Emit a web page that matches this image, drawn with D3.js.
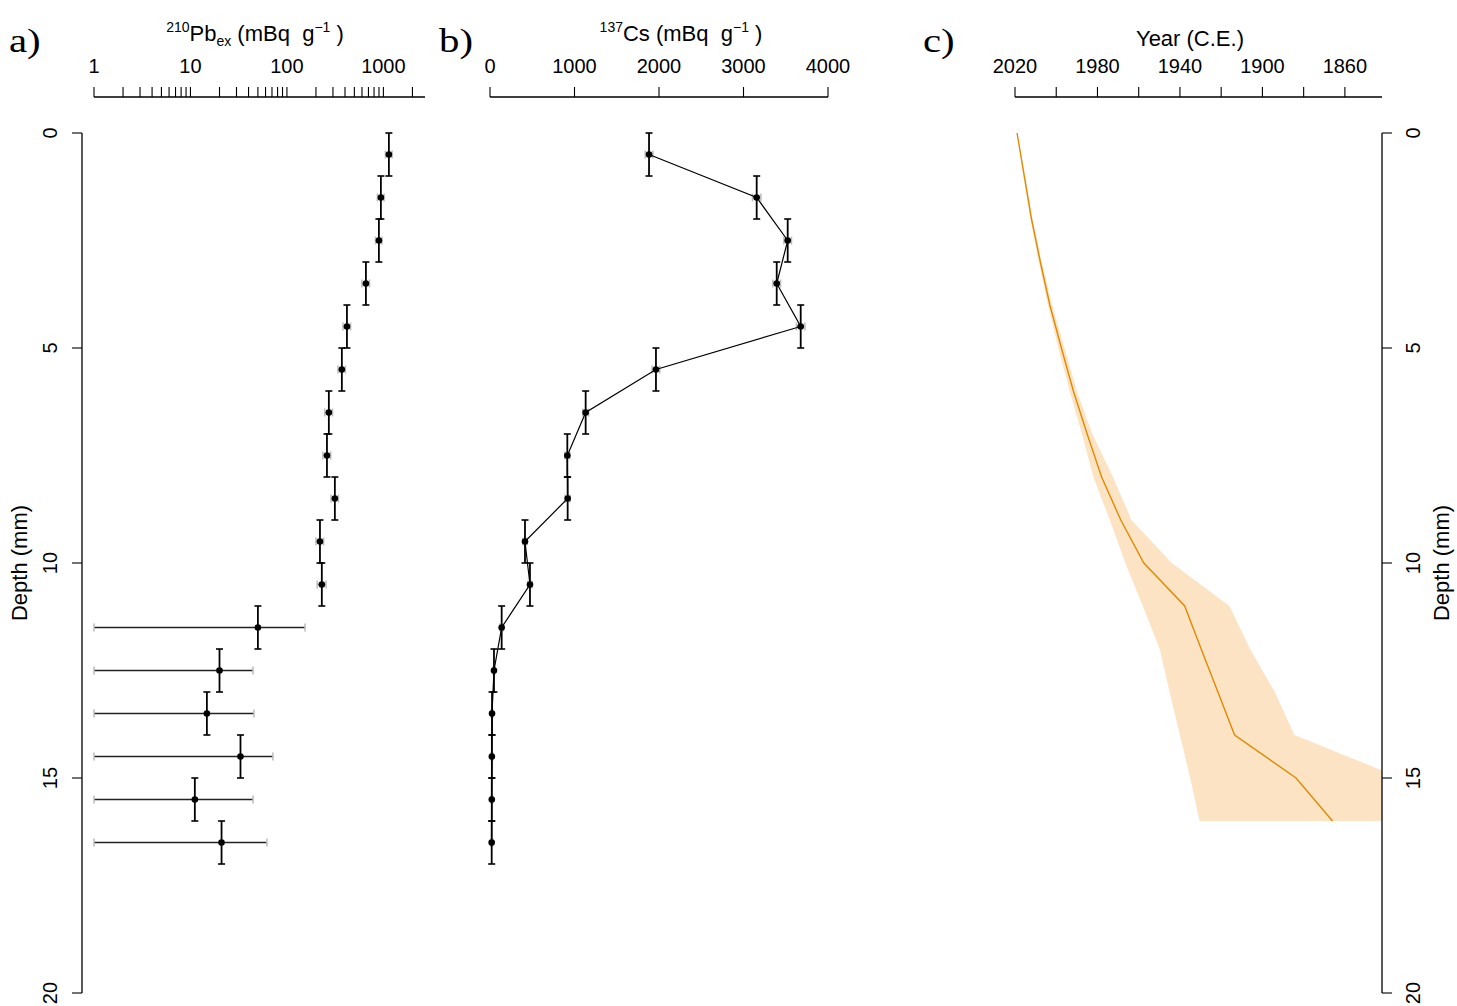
<!DOCTYPE html>
<html>
<head>
<meta charset="utf-8">
<script src="https://cdn.jsdelivr.net/npm/d3@7"></script>
<style>
  body { margin: 0; background: #fff; }
  text { font-family: "Liberation Sans", Arial, sans-serif; fill: #000; white-space: pre; }
</style>
</head>
<body>
<svg id="chart" width="1457" height="1006"></svg>
<script>
// slice midpoints and their top / bottom (mm)
var depth      = [0.5, 1.5, 2.5, 3.5, 4.5, 5.5, 6.5, 7.5, 8.5, 9.5, 10.5, 11.5, 12.5, 13.5, 14.5, 15.5, 16.5];
var sliceTop   = [0, 1, 2, 3, 4, 5, 6, 7, 8, 9, 10, 11, 12, 13, 14, 15, 16];
var sliceBot   = [1, 2, 3, 4, 5, 6, 7, 8, 9, 10, 11, 12, 13, 14, 15, 16, 17];

// 210Pb excess (mBq/g) and its error
var pbEx  = [1140, 942, 898, 659, 419, 371, 272, 260, 314, 220, 230, 50, 20, 14.8, 33, 11.1, 21];
var pbErr = [90, 75, 70, 60, 38, 33, 25, 24, 28, 20, 24, 104, 24.5, 30.7, 38.6, 33.4, 41];

// 137Cs (mBq/g) and its error
var csVal = [1882, 3156, 3523, 3393, 3677, 1964, 1132, 915, 919, 414, 473, 138, 47, 24, 22, 21, 20];
var csErr = [45, 50, 45, 45, 50, 45, 35, 30, 30, 25, 25, 20, 15, 12, 12, 12, 12];

// CRS age model
var ageDepth = [0, 1, 2, 3, 4, 5, 6, 7, 8, 9, 10, 11, 12, 13, 14, 15, 16];
var ageYear  = [2019, 2015.5, 2012, 2007.7, 2003.1, 1997.5, 1991.7, 1985, 1978, 1968.7, 1957.5, 1937.7, 1929.7, 1921.6, 1913.5, 1883.7, 1866];
var ageYoung = [2019, 2016, 2012.5, 2008.5, 2004, 1999, 1993.5, 1987.5, 1982, 1974, 1966.5, 1958, 1949.8, 1945, 1940, 1935, 1930.5];
var ageOld   = [2019, 2015, 2011.5, 2007, 2002, 1996, 1990, 1982.5, 1972.5, 1963.5, 1944, 1916, 1906, 1894, 1884.5, 1833, 1815];

// axis ticks
var depthTicks = [0, 5, 10, 15, 20];
var pbLabels   = [1, 10, 100, 1000];
var csTicks    = [0, 1000, 2000, 3000, 4000];
var yearTicks  = [2020, 2000, 1980, 1960, 1940, 1920, 1900, 1880, 1860];
var yearLabels = [2020, 1980, 1940, 1900, 1860];

var svg = d3.select("#chart");
var axisY = 97;   // top axes line
var tickLen = 10;

var y = d3.scaleLinear().domain([0, 20]).range([133, 993]);
var xPb = d3.scaleLog().domain([1, 2700]).range([94, 425]);
var xCs = d3.scaleLinear().domain([0, 4000]).range([490, 828]);
var xYr = d3.scaleLinear().domain([2020, 1842]).range([1015, 1382]);

function topAxis(scale, ticks, labels){
	var g = svg.append("g");
	var r = scale.range();
	g.append("line")
		.attr("x1", r[0]).attr("x2", r[1])
		.attr("y1", axisY).attr("y2", axisY)
		.attr("stroke", "#000").attr("stroke-width", 1.3);
	g.selectAll(".tk").data(ticks).enter().append("line")
		.attr("x1", function(d){ return scale(d); })
		.attr("x2", function(d){ return scale(d); })
		.attr("y1", axisY).attr("y2", axisY - tickLen)
		.attr("stroke", "#000").attr("stroke-width", 1.1);
	g.selectAll(".lb").data(labels).enter().append("text")
		.attr("x", function(d){ return scale(d); })
		.attr("y", 73)
		.attr("text-anchor", "middle")
		.style("font-size", "20px")
		.text(function(d){ return d; });
}

function depthAxis(x0, dir){
	//dir -1 draws ticks to the left, +1 to the right
	var g = svg.append("g");
	g.append("line")
		.attr("x1", x0).attr("x2", x0)
		.attr("y1", y(0)).attr("y2", y(20))
		.attr("stroke", "#000").attr("stroke-width", 1.3);
	g.selectAll(".tk").data(depthTicks).enter().append("line")
		.attr("x1", x0).attr("x2", x0 + dir * tickLen)
		.attr("y1", function(d){ return y(d); })
		.attr("y2", function(d){ return y(d); })
		.attr("stroke", "#000").attr("stroke-width", 1.1);
	var lx = dir < 0 ? 57 : 1420;
	g.selectAll(".lb").data(depthTicks).enter().append("text")
		.attr("transform", function(d){ return "translate(" + lx + "," + y(d) + ") rotate(-90)"; })
		.attr("text-anchor", "middle")
		.style("font-size", "20px")
		.text(function(d){ return d; });
	var tx = dir < 0 ? 27 : 1449;
	g.append("text")
		.attr("transform", "translate(" + tx + "," + y(10) + ") rotate(-90)")
		.attr("text-anchor", "middle")
		.style("font-size", "22px")
		.text("Depth (mm)");
}

function errorPoints(xs, vals, errs, clipMin, darkFrom){
	var g = svg.append("g");
	// horizontal (value) errors in grey
	depth.forEach(function(d, i){
		var lo = vals[i] - errs[i];
		if (lo < clipMin) lo = clipMin;
		var x1 = xs(lo), x2 = xs(vals[i] + errs[i]), yy = y(d);
		g.append("line").attr("x1", x1).attr("x2", x2).attr("y1", yy).attr("y2", yy)
			.attr("stroke", i >= darkFrom ? "#222" : "#aaa").attr("stroke-width", 1.5);
		[x1, x2].forEach(function(cx){
			g.append("line").attr("x1", cx).attr("x2", cx).attr("y1", yy - 4).attr("y2", yy + 4)
				.attr("stroke", "#bbb").attr("stroke-width", 1.5);
		});
	});
	// vertical (slice) errors in black
	depth.forEach(function(d, i){
		var xx = xs(vals[i]);
		g.append("line").attr("x1", xx).attr("x2", xx).attr("y1", y(sliceTop[i])).attr("y2", y(sliceBot[i]))
			.attr("stroke", "#000").attr("stroke-width", 1.8);
		[sliceTop[i], sliceBot[i]].forEach(function(dd){
			g.append("line").attr("x1", xx - 3.5).attr("x2", xx + 3.5).attr("y1", y(dd)).attr("y2", y(dd))
				.attr("stroke", "#000").attr("stroke-width", 1.6);
		});
	});
}

// panel letters
[["a)", 9], ["b)", 439], ["c)", 923]].forEach(function(p){
	svg.append("text").attr("x", p[1]).attr("y", 52)
		.attr("transform", "translate(" + p[1] + ",0) scale(1.2,1) translate(" + (-p[1]) + ",0)")
		.style("font-family", "'Liberation Serif', 'Times New Roman', serif")
		.style("font-size", "34px")
		.text(p[0]);
});

// panel a : 210Pb
topAxis(xPb, xPb.ticks(), pbLabels);
var ta = svg.append("text").attr("x", 255).attr("y", 41).attr("text-anchor", "middle").style("font-size", "22px");
ta.append("tspan").attr("dy", -9).style("font-size", "14px").text("210");
ta.append("tspan").attr("dy", 9).text("Pb");
ta.append("tspan").attr("dy", 5).style("font-size", "14px").text("ex");
ta.append("tspan").attr("dy", -5).text(" (mBq  g");
ta.append("tspan").attr("dy", -9).style("font-size", "14px").text("\u22121");
ta.append("tspan").attr("dy", 9).text(" )");

errorPoints(xPb, pbEx, pbErr, 1, 11);
svg.append("g").selectAll("circle").data(depth).enter().append("circle")
	.attr("cx", function(d, i){ return xPb(pbEx[i]); })
	.attr("cy", function(d){ return y(d); })
	.attr("r", 3.3).attr("fill", "#000");

// panel b : 137Cs
topAxis(xCs, csTicks, csTicks);
var tb = svg.append("text").attr("x", 681).attr("y", 41).attr("text-anchor", "middle").style("font-size", "22px");
tb.append("tspan").attr("dy", -9).style("font-size", "14px").text("137");
tb.append("tspan").attr("dy", 9).text("Cs (mBq  g");
tb.append("tspan").attr("dy", -9).style("font-size", "14px").text("\u22121");
tb.append("tspan").attr("dy", 9).text(" )");

errorPoints(xCs, csVal, csErr, 0, 99);
var csLine = d3.line()
	.x(function(d, i){ return xCs(csVal[i]); })
	.y(function(d){ return y(d); });
svg.append("path").datum(depth).attr("d", csLine)
	.attr("fill", "none").attr("stroke", "#000").attr("stroke-width", 1.2);
svg.append("g").selectAll("circle").data(depth).enter().append("circle")
	.attr("cx", function(d, i){ return xCs(csVal[i]); })
	.attr("cy", function(d){ return y(d); })
	.attr("r", 3.3).attr("fill", "#000");

// panel c : age model
svg.append("defs").append("clipPath").attr("id", "clipC")
	.append("rect").attr("x", 1000).attr("y", 120).attr("width", 382).attr("height", 880);
var band = d3.area()
	.y(function(d){ return y(d); })
	.x0(function(d, i){ return xYr(ageYoung[i]); })
	.x1(function(d, i){ return xYr(ageOld[i]); });
svg.append("path").datum(ageDepth).attr("d", band)
	.attr("clip-path", "url(#clipC)")
	.attr("fill", "#fce3c4").attr("stroke", "none");
var ageLine = d3.line()
	.x(function(d, i){ return xYr(ageYear[i]); })
	.y(function(d){ return y(d); });
svg.append("path").datum(ageDepth).attr("d", ageLine)
	.attr("fill", "none").attr("stroke", "#e08a00").attr("stroke-width", 1.4);

topAxis(xYr, yearTicks, yearLabels);
svg.append("text").attr("x", 1190).attr("y", 46).attr("text-anchor", "middle")
	.style("font-size", "22px").text("Year (C.E.)");

// depth axes
depthAxis(82, -1);
depthAxis(1382, 1);
</script>
</body>
</html>
